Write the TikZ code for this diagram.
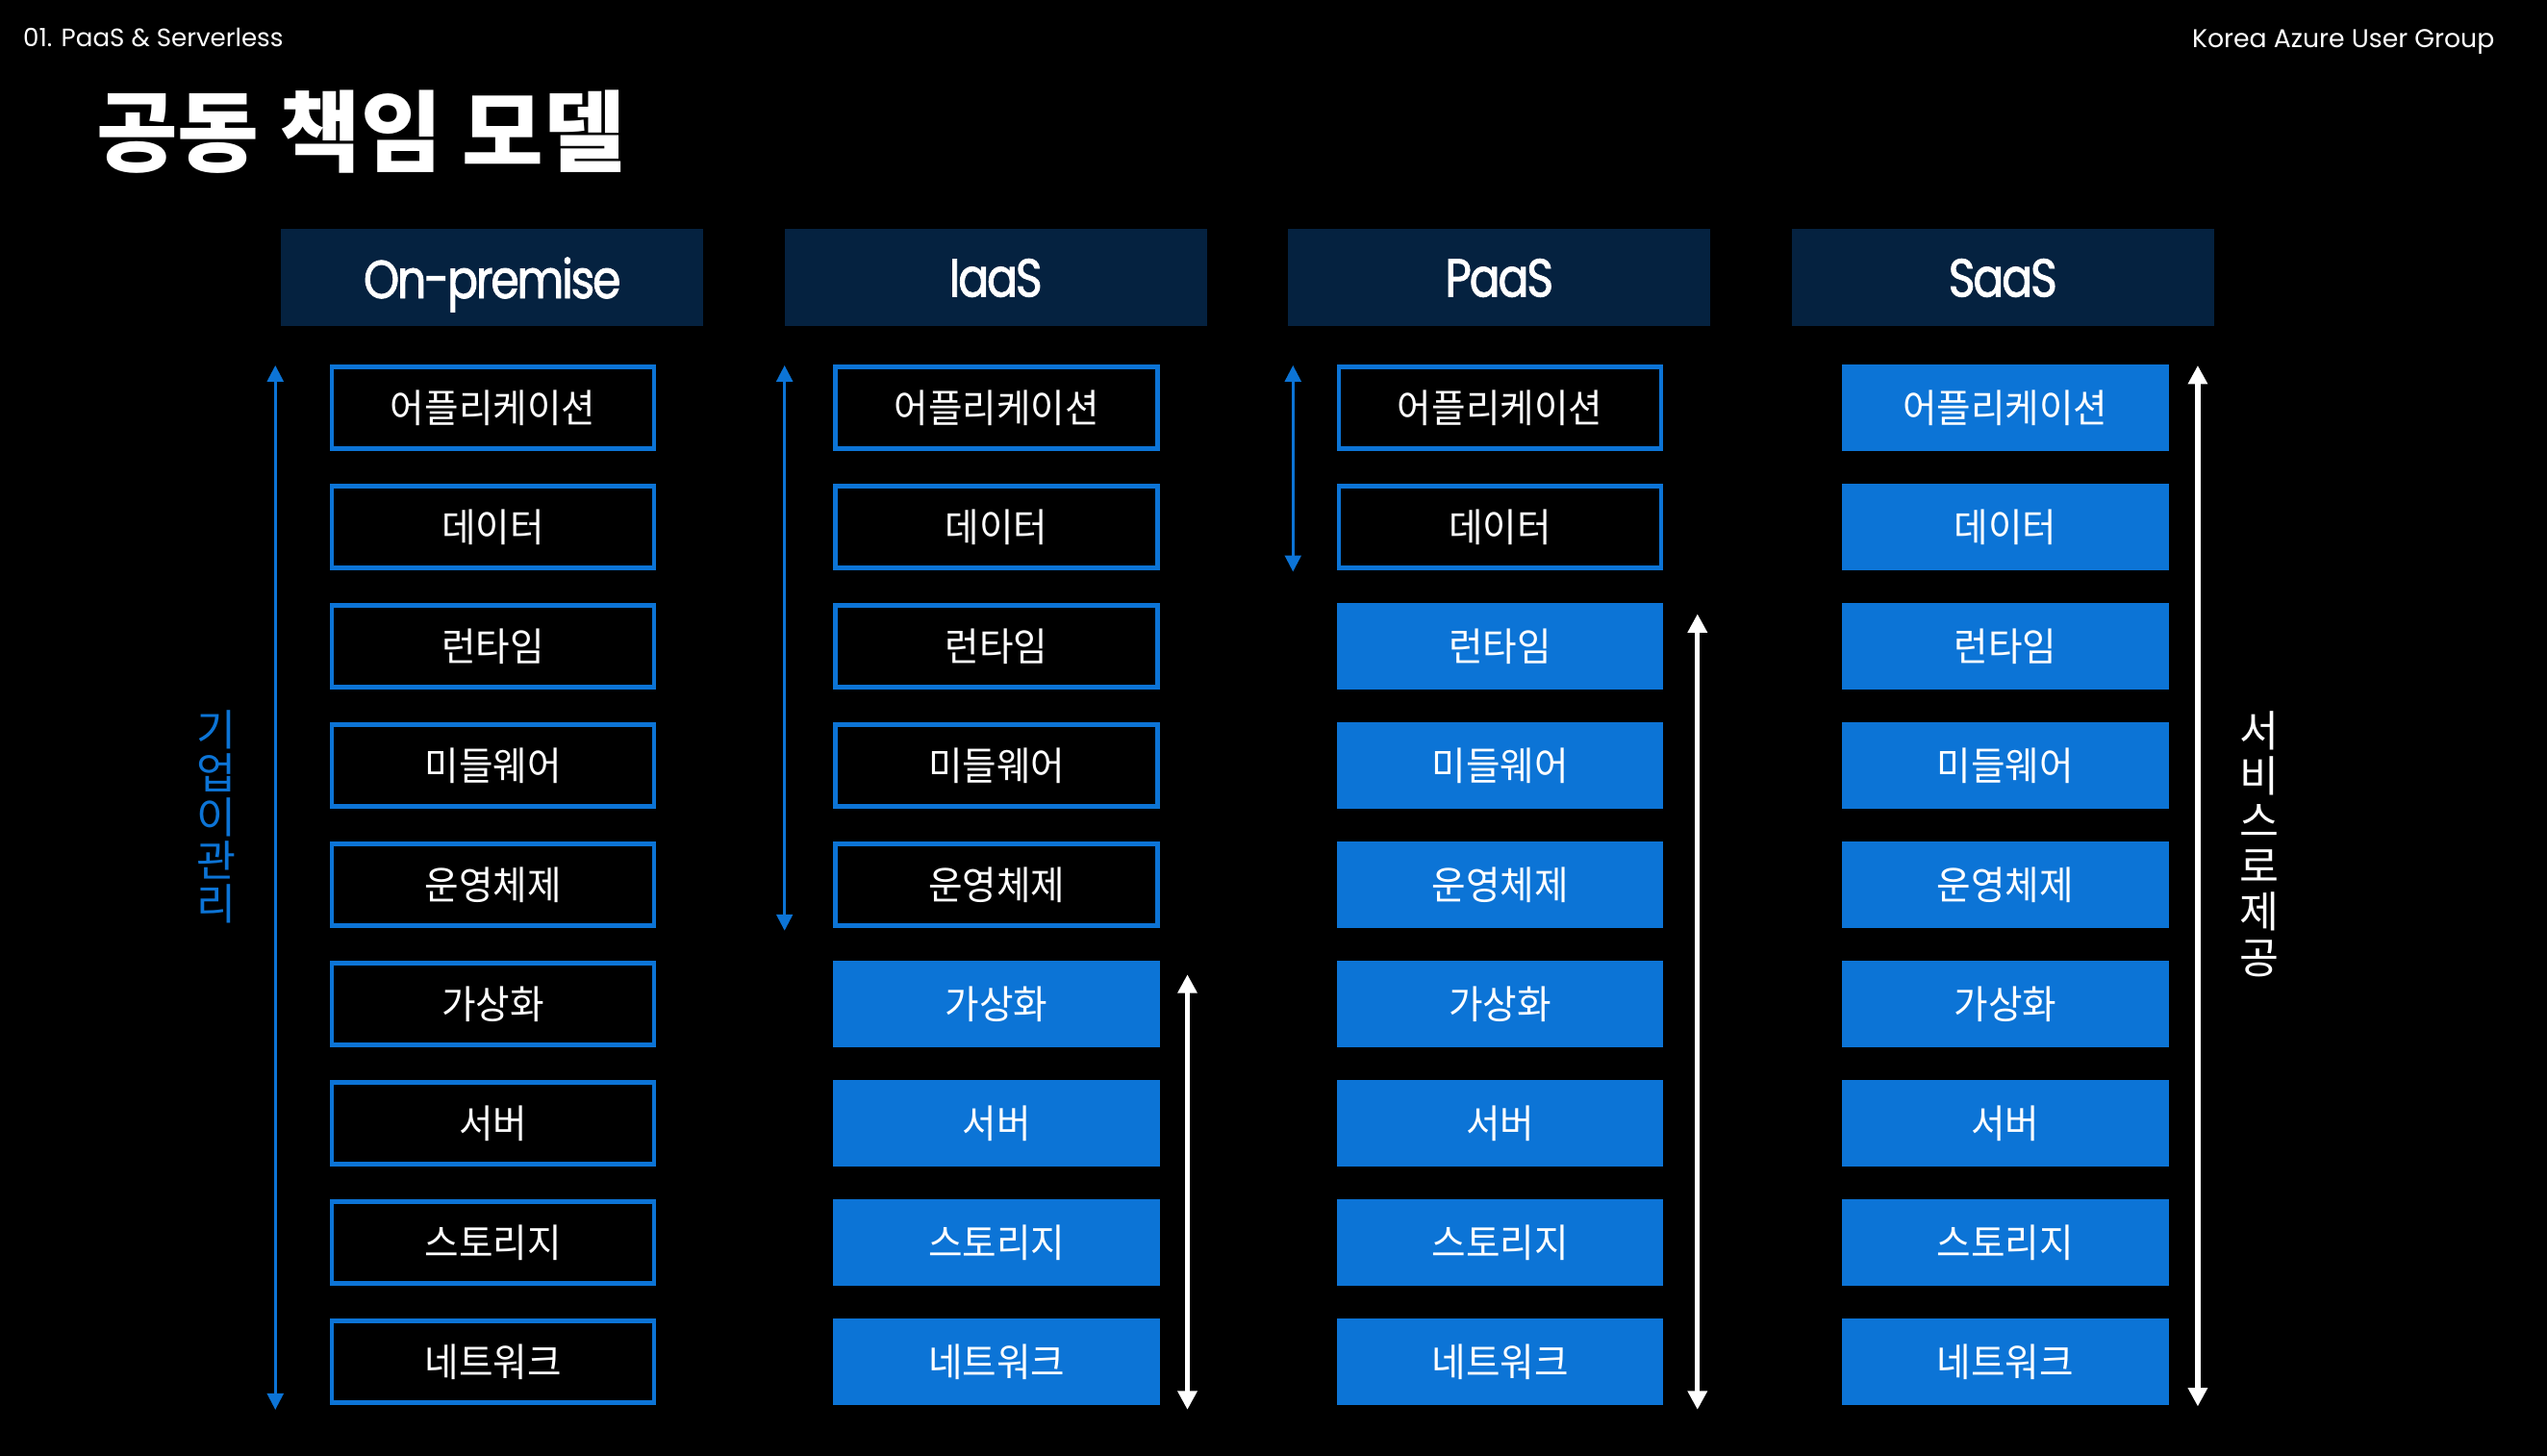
\documentclass[tikz,border=0pt]{standalone}
\usepackage{fontspec}
\setmainfont{Poppins}
\newfontfamily\kr[FakeStretch=0.95]{Noto Sans CJK KR}
\newfontfamily\krtitle{Noto Sans CJK KR}
\newfontfamily\headfont[FakeStretch=0.85,FakeBold=1.5,LetterSpace=-4]{Poppins}
\usetikzlibrary{arrows.meta}
\definecolor{azblue}{RGB}{12,116,214}
\definecolor{navy}{RGB}{5,34,64}
\begin{document}
\begin{tikzpicture}[x=0.2mm, y=-0.2mm,
  outbox/.style={draw=azblue, line width=0.54mm, fill=black, minimum width=39.66mm, minimum height=10.06mm, inner sep=0pt, text=white, font=\kr\fontsize{13.7}{13.7}\selectfont},
  fillbox/.style={fill=azblue, minimum width=40.2mm, minimum height=10.6mm, inner sep=0pt, text=white, font=\kr\fontsize{13.7}{13.7}\selectfont},
  header/.style={fill=navy, minimum width=52mm, minimum height=12mm, inner sep=0pt, text depth=0pt, text=white, font=\headfont\fontsize{18.8}{18.8}\selectfont},
  bluearr/.style={azblue, line width=0.3mm, {Triangle[width=2mm,length=2mm]}-{Triangle[width=2mm,length=2mm]}},
  whitearr/.style={white, line width=0.64mm, {Triangle[width=2.3mm,length=2.3mm]}-{Triangle[width=2.3mm,length=2.3mm]}}]
\fill[black] (0,0) rectangle (1568,896.5);
\node[anchor=west, inner sep=0pt, text=white, font=\fontsize{8.8}{8.8}\selectfont] (topic) at (14,23){01. PaaS \& Serverless};
\node[anchor=east, inner sep=0pt, text=white, font=\fontsize{9}{9}\selectfont] (group) at (1536,26){Korea Azure User Group};
\node[anchor=west, inner sep=0pt, text=white, font=\krtitle\bfseries\fontsize{31}{31}\selectfont] (title) at (59,81){공동 책임 모델};
% headers
\node[header] (hop) at (303,171){On-premise};
\node[header] (hia) at (613,171){IaaS};
\node[header] (hpa) at (923,171){PaaS};
\node[header] (hsa) at (1233,171){SaaS};
% on-premise
\node[outbox] (op1) at (303.5,251){어플리케이션};
\node[outbox] (op2) at (303.5,324.44){데이터};
\node[outbox] (op3) at (303.5,397.88){런타임};
\node[outbox] (op4) at (303.5,471.32){미들웨어};
\node[outbox] (op5) at (303.5,544.76){운영체제};
\node[outbox] (op6) at (303.5,618.2){가상화};
\node[outbox] (op7) at (303.5,691.64){서버};
\node[outbox] (op8) at (303.5,765.08){스토리지};
\node[outbox] (op9) at (303.5,838.5){네트워크};
% iaas
\node[outbox] (ia1) at (613.5,251){어플리케이션};
\node[outbox] (ia2) at (613.5,324.44){데이터};
\node[outbox] (ia3) at (613.5,397.88){런타임};
\node[outbox] (ia4) at (613.5,471.32){미들웨어};
\node[outbox] (ia5) at (613.5,544.76){운영체제};
\node[fillbox] (ia6) at (613.5,618.2){가상화};
\node[fillbox] (ia7) at (613.5,691.64){서버};
\node[fillbox] (ia8) at (613.5,765.08){스토리지};
\node[fillbox] (ia9) at (613.5,838.5){네트워크};
% paas
\node[outbox] (pa1) at (923.5,251){어플리케이션};
\node[outbox] (pa2) at (923.5,324.44){데이터};
\node[fillbox] (pa3) at (923.5,397.88){런타임};
\node[fillbox] (pa4) at (923.5,471.32){미들웨어};
\node[fillbox] (pa5) at (923.5,544.76){운영체제};
\node[fillbox] (pa6) at (923.5,618.2){가상화};
\node[fillbox] (pa7) at (923.5,691.64){서버};
\node[fillbox] (pa8) at (923.5,765.08){스토리지};
\node[fillbox] (pa9) at (923.5,838.5){네트워크};
% saas
\node[fillbox] (sa1) at (1234.5,251){어플리케이션};
\node[fillbox] (sa2) at (1234.5,324.44){데이터};
\node[fillbox] (sa3) at (1234.5,397.88){런타임};
\node[fillbox] (sa4) at (1234.5,471.32){미들웨어};
\node[fillbox] (sa5) at (1234.5,544.76){운영체제};
\node[fillbox] (sa6) at (1234.5,618.2){가상화};
\node[fillbox] (sa7) at (1234.5,691.64){서버};
\node[fillbox] (sa8) at (1234.5,765.08){스토리지};
\node[fillbox] (sa9) at (1234.5,838.5){네트워크};
% side labels
\node[align=center, inner sep=0pt, text=azblue, font=\krtitle\fontsize{15}{15.2}\selectfont] (own) at (133,503){기\\업\\이\\관\\리};
\node[align=center, inner sep=0pt, text=white, font=\krtitle\fontsize{15}{15.9}\selectfont] (prov) at (1391,519.5){서\\비\\스\\로\\제\\공};
% ranges
\coordinate (op-t) at (169.5,225);
\coordinate (op-b) at (169.5,868);
\coordinate (ia-t) at (483,225);
\coordinate (ia-b) at (483,573);
\coordinate (pa-t) at (796,225);
\coordinate (pa-b) at (796,352);
\coordinate (iw-t) at (731,600);
\coordinate (iw-b) at (731,868);
\coordinate (pw-t) at (1045,378);
\coordinate (pw-b) at (1045,868);
\coordinate (sw-t) at (1353,225);
\coordinate (sw-b) at (1353,866);
\draw[bluearr] (op-t) -- (op-b);
\draw[bluearr] (ia-t) -- (ia-b);
\draw[bluearr] (pa-t) -- (pa-b);
\draw[whitearr] (iw-t) -- (iw-b);
\draw[whitearr] (pw-t) -- (pw-b);
\draw[whitearr] (sw-t) -- (sw-b);
\end{tikzpicture}
\end{document}
